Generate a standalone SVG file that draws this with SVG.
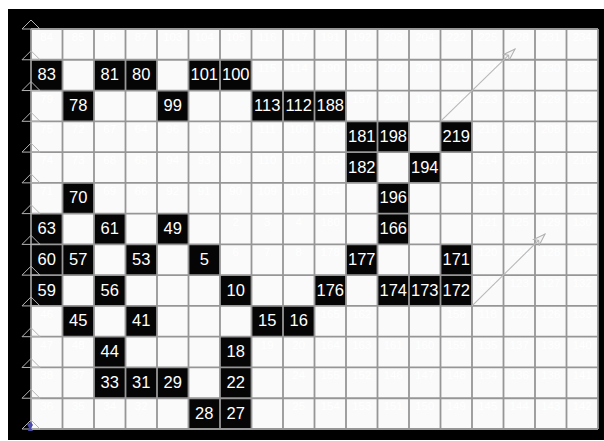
<svg xmlns="http://www.w3.org/2000/svg" width="604" height="441" viewBox="0 0 604 441">
<style>
.blk{fill:#050505}
.lb{fill:#ffffff;font-family:"Liberation Sans",Arial,sans-serif;font-size:16.5px;text-anchor:middle}
.fn{fill:#ffffff;font-family:"Liberation Sans",Arial,sans-serif;font-size:11.5px;text-anchor:middle}
.grid{stroke:#969696;stroke-width:1.8;fill:none}
.tri{stroke:#b4b4b4;stroke-width:1;fill:none}
.arr{stroke:#b8b8b8;stroke-width:1.1;fill:none;marker-end:url(#ah)}
</style>
<defs>
<marker id="ah" viewBox="0 0 14 10" refX="13" refY="5" markerWidth="14" markerHeight="10" markerUnits="userSpaceOnUse" orient="auto">
<path d="M1,1 L13,5 L1,9 L4,5 Z" fill="#f4f4f4" stroke="#b0b0b0" stroke-width="1"/>
</marker>
</defs>
<rect x="0" y="0" width="604" height="441" fill="#ffffff"/>
<rect x="8" y="9" width="596" height="431" fill="#000000"/>
<rect x="31" y="29" width="567" height="400" fill="#fafafa"/>

<g id="faint">
<text class="fn" x="46.75" y="41">84</text><text class="fn" x="78.25" y="41">85</text><text class="fn" x="109.75" y="41">86</text><text class="fn" x="141.25" y="41">87</text><text class="fn" x="172.75" y="41">103</text><text class="fn" x="204.25" y="41">104</text><text class="fn" x="235.75" y="41">105</text><text class="fn" x="267.25" y="41">116</text><text class="fn" x="298.75" y="41">117</text><text class="fn" x="330.25" y="41">191</text><text class="fn" x="361.75" y="41">192</text><text class="fn" x="393.25" y="41">203</text><text class="fn" x="424.75" y="41">204</text><text class="fn" x="456.25" y="41">222</text><text class="fn" x="487.75" y="41">225</text><text class="fn" x="519.25" y="41">228</text><text class="fn" x="550.75" y="41">231</text><text class="fn" x="582.25" y="41">234</text>
<text class="fn" x="267.25" y="71.77">115</text><text class="fn" x="298.75" y="71.77">114</text><text class="fn" x="330.25" y="71.77">190</text><text class="fn" x="361.75" y="71.77">193</text><text class="fn" x="393.25" y="71.77">202</text><text class="fn" x="424.75" y="71.77">201</text><text class="fn" x="456.25" y="71.77">221</text><text class="fn" x="487.75" y="71.77">224</text><text class="fn" x="519.25" y="71.77">227</text><text class="fn" x="550.75" y="71.77">230</text><text class="fn" x="582.25" y="71.77">233</text>
<text class="fn" x="46.75" y="102.54">79</text><text class="fn" x="361.75" y="102.54">187</text><text class="fn" x="393.25" y="102.54">200</text><text class="fn" x="424.75" y="102.54">199</text><text class="fn" x="456.25" y="102.54">220</text><text class="fn" x="487.75" y="102.54">223</text><text class="fn" x="519.25" y="102.54">226</text><text class="fn" x="550.75" y="102.54">229</text><text class="fn" x="582.25" y="102.54">232</text>
<text class="fn" x="46.75" y="133.31">75</text><text class="fn" x="78.25" y="133.31">72</text><text class="fn" x="109.75" y="133.31">67</text><text class="fn" x="141.25" y="133.31">64</text><text class="fn" x="172.75" y="133.31">96</text><text class="fn" x="204.25" y="133.31">95</text><text class="fn" x="235.75" y="133.31">88</text><text class="fn" x="267.25" y="133.31">111</text><text class="fn" x="298.75" y="133.31">106</text><text class="fn" x="330.25" y="133.31">186</text><text class="fn" x="487.75" y="133.31">218</text><text class="fn" x="519.25" y="133.31">206</text><text class="fn" x="550.75" y="133.31">208</text><text class="fn" x="582.25" y="133.31">209</text>
<text class="fn" x="46.75" y="164.08">74</text><text class="fn" x="78.25" y="164.08">73</text><text class="fn" x="109.75" y="164.08">68</text><text class="fn" x="141.25" y="164.08">65</text><text class="fn" x="172.75" y="164.08">94</text><text class="fn" x="204.25" y="164.08">93</text><text class="fn" x="235.75" y="164.08">89</text><text class="fn" x="267.25" y="164.08">110</text><text class="fn" x="298.75" y="164.08">107</text><text class="fn" x="330.25" y="164.08">185</text><text class="fn" x="487.75" y="164.08">214</text><text class="fn" x="519.25" y="164.08">205</text><text class="fn" x="550.75" y="164.08">207</text><text class="fn" x="582.25" y="164.08">210</text>
<text class="fn" x="46.75" y="194.85">71</text><text class="fn" x="109.75" y="194.85">69</text><text class="fn" x="141.25" y="194.85">66</text><text class="fn" x="172.75" y="194.85">92</text><text class="fn" x="204.25" y="194.85">91</text><text class="fn" x="235.75" y="194.85">90</text><text class="fn" x="267.25" y="194.85">109</text><text class="fn" x="298.75" y="194.85">108</text><text class="fn" x="330.25" y="194.85">184</text><text class="fn" x="487.75" y="194.85">215</text><text class="fn" x="519.25" y="194.85">213</text><text class="fn" x="550.75" y="194.85">212</text><text class="fn" x="582.25" y="194.85">211</text>
<text class="fn" x="235.75" y="225.62">2</text><text class="fn" x="267.25" y="225.62">3</text><text class="fn" x="298.75" y="225.62">4</text><text class="fn" x="330.25" y="225.62">180</text><text class="fn" x="487.75" y="225.62">121</text><text class="fn" x="519.25" y="225.62">125</text><text class="fn" x="550.75" y="225.62">129</text><text class="fn" x="582.25" y="225.62">130</text>
<text class="fn" x="235.75" y="256.38">6</text><text class="fn" x="267.25" y="256.38">7</text><text class="fn" x="298.75" y="256.38">8</text><text class="fn" x="330.25" y="256.38">178</text><text class="fn" x="487.75" y="256.38">120</text><text class="fn" x="519.25" y="256.38">124</text><text class="fn" x="550.75" y="256.38">128</text><text class="fn" x="582.25" y="256.38">131</text>
<text class="fn" x="487.75" y="287.15">119</text><text class="fn" x="519.25" y="287.15">123</text><text class="fn" x="550.75" y="287.15">127</text><text class="fn" x="582.25" y="287.15">132</text>
<text class="fn" x="46.75" y="317.92">46</text><text class="fn" x="330.25" y="317.92">165</text><text class="fn" x="361.75" y="317.92">162</text><text class="fn" x="456.25" y="317.92">158</text><text class="fn" x="487.75" y="317.92">118</text><text class="fn" x="519.25" y="317.92">122</text><text class="fn" x="550.75" y="317.92">126</text><text class="fn" x="582.25" y="317.92">133</text>
<text class="fn" x="46.75" y="348.69">47</text><text class="fn" x="78.25" y="348.69">48</text><text class="fn" x="267.25" y="348.69">19</text><text class="fn" x="298.75" y="348.69">20</text><text class="fn" x="330.25" y="348.69">164</text><text class="fn" x="361.75" y="348.69">163</text><text class="fn" x="393.25" y="348.69">161</text><text class="fn" x="424.75" y="348.69">160</text><text class="fn" x="456.25" y="348.69">159</text><text class="fn" x="487.75" y="348.69">135</text><text class="fn" x="519.25" y="348.69">137</text><text class="fn" x="550.75" y="348.69">139</text><text class="fn" x="582.25" y="348.69">140</text>
<text class="fn" x="46.75" y="379.46">38</text><text class="fn" x="78.25" y="379.46">37</text><text class="fn" x="298.75" y="379.46">24</text><text class="fn" x="330.25" y="379.46">155</text><text class="fn" x="361.75" y="379.46">152</text><text class="fn" x="393.25" y="379.46">146</text><text class="fn" x="424.75" y="379.46">147</text><text class="fn" x="456.25" y="379.46">148</text><text class="fn" x="487.75" y="379.46">134</text><text class="fn" x="519.25" y="379.46">136</text><text class="fn" x="550.75" y="379.46">138</text><text class="fn" x="582.25" y="379.46">141</text>
<text class="fn" x="46.75" y="410.23">36</text><text class="fn" x="78.25" y="410.23">35</text><text class="fn" x="109.75" y="410.23">34</text><text class="fn" x="141.25" y="410.23">32</text><text class="fn" x="298.75" y="410.23">25</text><text class="fn" x="330.25" y="410.23">154</text><text class="fn" x="361.75" y="410.23">153</text><text class="fn" x="393.25" y="410.23">151</text><text class="fn" x="424.75" y="410.23">150</text><text class="fn" x="456.25" y="410.23">149</text><text class="fn" x="487.75" y="410.23">145</text><text class="fn" x="519.25" y="410.23">144</text><text class="fn" x="550.75" y="410.23">143</text><text class="fn" x="582.25" y="410.23">142</text>
</g>

<g id="cells">
<g id="n83" transform="translate(31,59.77)"><rect class="blk" width="31.5" height="30.77"/><text class="lb" x="15.75" y="20.5">83</text></g>
<g id="n81" transform="translate(94,59.77)"><rect class="blk" width="31.5" height="30.77"/><text class="lb" x="15.75" y="20.5">81</text></g>
<g id="n80" transform="translate(125.5,59.77)"><rect class="blk" width="31.5" height="30.77"/><text class="lb" x="15.75" y="20.5">80</text></g>
<g id="n101" transform="translate(188.5,59.77)"><rect class="blk" width="31.5" height="30.77"/><text class="lb" x="15.75" y="20.5">101</text></g>
<g id="n100" transform="translate(220,59.77)"><rect class="blk" width="31.5" height="30.77"/><text class="lb" x="15.75" y="20.5">100</text></g>
<g id="n78" transform="translate(62.5,90.54)"><rect class="blk" width="31.5" height="30.77"/><text class="lb" x="15.75" y="20.5">78</text></g>
<g id="n99" transform="translate(157,90.54)"><rect class="blk" width="31.5" height="30.77"/><text class="lb" x="15.75" y="20.5">99</text></g>
<g id="n113" transform="translate(251.5,90.54)"><rect class="blk" width="31.5" height="30.77"/><text class="lb" x="15.75" y="20.5">113</text></g>
<g id="n112" transform="translate(283,90.54)"><rect class="blk" width="31.5" height="30.77"/><text class="lb" x="15.75" y="20.5">112</text></g>
<g id="n188" transform="translate(314.5,90.54)"><rect class="blk" width="31.5" height="30.77"/><text class="lb" x="15.75" y="20.5">188</text></g>
<g id="n181" transform="translate(346,121.31)"><rect class="blk" width="31.5" height="30.77"/><text class="lb" x="15.75" y="20.5">181</text></g>
<g id="n198" transform="translate(377.5,121.31)"><rect class="blk" width="31.5" height="30.77"/><text class="lb" x="15.75" y="20.5">198</text></g>
<g id="n219" transform="translate(440.5,121.31)"><rect class="blk" width="31.5" height="30.77"/><text class="lb" x="15.75" y="20.5">219</text></g>
<g id="n182" transform="translate(346,152.08)"><rect class="blk" width="31.5" height="30.77"/><text class="lb" x="15.75" y="20.5">182</text></g>
<g id="n194" transform="translate(409,152.08)"><rect class="blk" width="31.5" height="30.77"/><text class="lb" x="15.75" y="20.5">194</text></g>
<g id="n70" transform="translate(62.5,182.85)"><rect class="blk" width="31.5" height="30.77"/><text class="lb" x="15.75" y="20.5">70</text></g>
<g id="n196" transform="translate(377.5,182.85)"><rect class="blk" width="31.5" height="30.77"/><text class="lb" x="15.75" y="20.5">196</text></g>
<g id="n63" transform="translate(31,213.62)"><rect class="blk" width="31.5" height="30.77"/><text class="lb" x="15.75" y="20.5">63</text></g>
<g id="n61" transform="translate(94,213.62)"><rect class="blk" width="31.5" height="30.77"/><text class="lb" x="15.75" y="20.5">61</text></g>
<g id="n49" transform="translate(157,213.62)"><rect class="blk" width="31.5" height="30.77"/><text class="lb" x="15.75" y="20.5">49</text></g>
<g id="n166" transform="translate(377.5,213.62)"><rect class="blk" width="31.5" height="30.77"/><text class="lb" x="15.75" y="20.5">166</text></g>
<g id="n60" transform="translate(31,244.38)"><rect class="blk" width="31.5" height="30.77"/><text class="lb" x="15.75" y="20.5">60</text></g>
<g id="n57" transform="translate(62.5,244.38)"><rect class="blk" width="31.5" height="30.77"/><text class="lb" x="15.75" y="20.5">57</text></g>
<g id="n53" transform="translate(125.5,244.38)"><rect class="blk" width="31.5" height="30.77"/><text class="lb" x="15.75" y="20.5">53</text></g>
<g id="n5" transform="translate(188.5,244.38)"><rect class="blk" width="31.5" height="30.77"/><text class="lb" x="15.75" y="20.5">5</text></g>
<g id="n177" transform="translate(346,244.38)"><rect class="blk" width="31.5" height="30.77"/><text class="lb" x="15.75" y="20.5">177</text></g>
<g id="n171" transform="translate(440.5,244.38)"><rect class="blk" width="31.5" height="30.77"/><text class="lb" x="15.75" y="20.5">171</text></g>
<g id="n59" transform="translate(31,275.15)"><rect class="blk" width="31.5" height="30.77"/><text class="lb" x="15.75" y="20.5">59</text></g>
<g id="n56" transform="translate(94,275.15)"><rect class="blk" width="31.5" height="30.77"/><text class="lb" x="15.75" y="20.5">56</text></g>
<g id="n10" transform="translate(220,275.15)"><rect class="blk" width="31.5" height="30.77"/><text class="lb" x="15.75" y="20.5">10</text></g>
<g id="n176" transform="translate(314.5,275.15)"><rect class="blk" width="31.5" height="30.77"/><text class="lb" x="15.75" y="20.5">176</text></g>
<g id="n174" transform="translate(377.5,275.15)"><rect class="blk" width="31.5" height="30.77"/><text class="lb" x="15.75" y="20.5">174</text></g>
<g id="n173" transform="translate(409,275.15)"><rect class="blk" width="31.5" height="30.77"/><text class="lb" x="15.75" y="20.5">173</text></g>
<g id="n172" transform="translate(440.5,275.15)"><rect class="blk" width="31.5" height="30.77"/><text class="lb" x="15.75" y="20.5">172</text></g>
<g id="n45" transform="translate(62.5,305.92)"><rect class="blk" width="31.5" height="30.77"/><text class="lb" x="15.75" y="20.5">45</text></g>
<g id="n41" transform="translate(125.5,305.92)"><rect class="blk" width="31.5" height="30.77"/><text class="lb" x="15.75" y="20.5">41</text></g>
<g id="n15" transform="translate(251.5,305.92)"><rect class="blk" width="31.5" height="30.77"/><text class="lb" x="15.75" y="20.5">15</text></g>
<g id="n16" transform="translate(283,305.92)"><rect class="blk" width="31.5" height="30.77"/><text class="lb" x="15.75" y="20.5">16</text></g>
<g id="n44" transform="translate(94,336.69)"><rect class="blk" width="31.5" height="30.77"/><text class="lb" x="15.75" y="20.5">44</text></g>
<g id="n18" transform="translate(220,336.69)"><rect class="blk" width="31.5" height="30.77"/><text class="lb" x="15.75" y="20.5">18</text></g>
<g id="n33" transform="translate(94,367.46)"><rect class="blk" width="31.5" height="30.77"/><text class="lb" x="15.75" y="20.5">33</text></g>
<g id="n31" transform="translate(125.5,367.46)"><rect class="blk" width="31.5" height="30.77"/><text class="lb" x="15.75" y="20.5">31</text></g>
<g id="n29" transform="translate(157,367.46)"><rect class="blk" width="31.5" height="30.77"/><text class="lb" x="15.75" y="20.5">29</text></g>
<g id="n22" transform="translate(220,367.46)"><rect class="blk" width="31.5" height="30.77"/><text class="lb" x="15.75" y="20.5">22</text></g>
<g id="n28" transform="translate(188.5,398.23)"><rect class="blk" width="31.5" height="30.77"/><text class="lb" x="15.75" y="20.5">28</text></g>
<g id="n27" transform="translate(220,398.23)"><rect class="blk" width="31.5" height="30.77"/><text class="lb" x="15.75" y="20.5">27</text></g>
</g>

<g id="gridlines">
<path class="grid" d="M31,29V429M62.5,29V429M94,29V429M125.5,29V429M157,29V429M188.5,29V429M220,29V429M251.5,29V429M283,29V429M314.5,29V429M346,29V429M377.5,29V429M409,29V429M440.5,29V429M472,29V429M503.5,29V429M535,29V429M566.5,29V429M598,29V429"/>
<path class="grid" d="M31,29H598M31,59.77H598M31,90.54H598M31,121.31H598M31,152.08H598M31,182.85H598M31,213.62H598M31,244.38H598M31,275.15H598M31,305.92H598M31,336.69H598M31,367.46H598M31,398.23H598M31,429H598"/>
</g>

<g id="markers">
<polygon class="tri" points="22,29 31,20 40,29"/>
<polygon class="tri" points="22,59.77 31,50.77 40,59.77"/>
<polygon class="tri" points="22,90.54 31,81.54 40,90.54"/>
<polygon class="tri" points="22,121.31 31,112.31 40,121.31"/>
<polygon class="tri" points="22,152.08 31,143.08 40,152.08"/>
<polygon class="tri" points="22,182.85 31,173.85 40,182.85"/>
<polygon class="tri" points="22,213.62 31,204.62 40,213.62"/>
<polygon class="tri" points="22,244.38 31,235.38 40,244.38"/>
<polygon class="tri" points="22,275.15 31,266.15 40,275.15"/>
<polygon class="tri" points="22,305.92 31,296.92 40,305.92"/>
<polygon class="tri" points="22,336.69 31,327.69 40,336.69"/>
<polygon class="tri" points="22,367.46 31,358.46 40,367.46"/>
<polygon class="tri" points="22,398.23 31,389.23 40,398.23"/>
<polygon class="tri" points="22,429 31,420 40,429"/>
<path d="M27,424 L31,422 L33,425 L31,428 L33,431 L28,431 L29,428 Z" fill="#4a4aa8"/>
</g>

<g id="connectors">
<line class="arr" x1="440.5" y1="121.3" x2="515" y2="49"/>
<line class="arr" x1="472" y1="305.9" x2="545" y2="234"/>
</g>
</svg>
